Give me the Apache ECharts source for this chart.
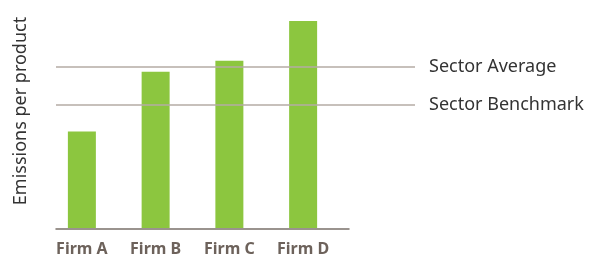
<!DOCTYPE html>
<html>
<head>
<meta charset="utf-8">
<script src="https://cdn.jsdelivr.net/npm/echarts@6/dist/echarts.min.js"></script>
<style>
  html, body { margin: 0; padding: 0; background: #fff; }
  #chart { width: 592px; height: 257px; }
</style>
</head>
<body>
<div id="chart"></div>
<script>
// data
const firms = ['Firm A', 'Firm B', 'Firm C', 'Firm D'];
const emissions = [48.5, 78.5, 84, 104];
const refNames = ['Sector Average', 'Sector Benchmark'];
const refValues = [81, 62];

const yMax = 104;
const font = '"Noto Sans", sans-serif';
const lineColor = '#b5aba4';

const chart = echarts.init(document.getElementById('chart'));

const refSeries = refNames.map(function (name, i) {
    return {
        name: name,
        type: 'line',
        xAxisIndex: 1,
        yAxisIndex: 1,
        symbol: 'none',
        silent: true,
        lineStyle: { color: lineColor, width: 1.5 },
        endLabel: {
            show: true,
            formatter: name,
            distance: 14,
            color: '#333333',
            fontFamily: font,
            fontSize: 18
        },
        data: [[0, refValues[i]], [1, refValues[i]]]
    };
});

const options = {
    backgroundColor: '#FFFFFF',
    animation: false,
    grid: [
        { left: 45, width: 295, top: 21, bottom: 28 },   // bars
        { left: 56, right: 177, top: 21, bottom: 28 },   // reference lines
        { left: 56, right: 243, top: 21, bottom: 28 }    // base line
    ],
    xAxis: [{
        type: 'category',
        gridIndex: 0,
        data: firms,
        axisLine: { show: false },
        axisTick: { show: false },
        axisLabel: {
            color: '#6d625b',
            fontFamily: font,
            fontWeight: 'bold',
            fontSize: 16,
            margin: 13
        }
    }, {
        type: 'value',
        gridIndex: 1,
        min: 0,
        max: 1,
        show: false
    }, {
        type: 'category',
        gridIndex: 2,
        data: firms,
        axisLine: { lineStyle: { color: '#7a706a', width: 1.5 } },
        axisTick: { show: false },
        axisLabel: { show: false }
    }],
    yAxis: [0, 1, 2].map(function (g) {
        return {
            type: 'value',
            gridIndex: g,
            min: 0,
            max: yMax,
            show: false
        };
    }),
    graphic: [{
        type: 'text',
        x: 21,
        y: 111,
        rotation: Math.PI / 2,
        style: {
            text: 'Emissions per product',
            fill: '#333333',
            font: '18px ' + font,
            textAlign: 'center',
            textVerticalAlign: 'middle'
        }
    }],
    series: refSeries.concat([{
        name: 'Emissions',
        type: 'bar',
        xAxisIndex: 0,
        yAxisIndex: 0,
        barWidth: 28,
        itemStyle: { color: '#8cc63f' },
        data: emissions,
        z: 3
    }])
};

chart.setOption(options);
</script>
</body>
</html>
